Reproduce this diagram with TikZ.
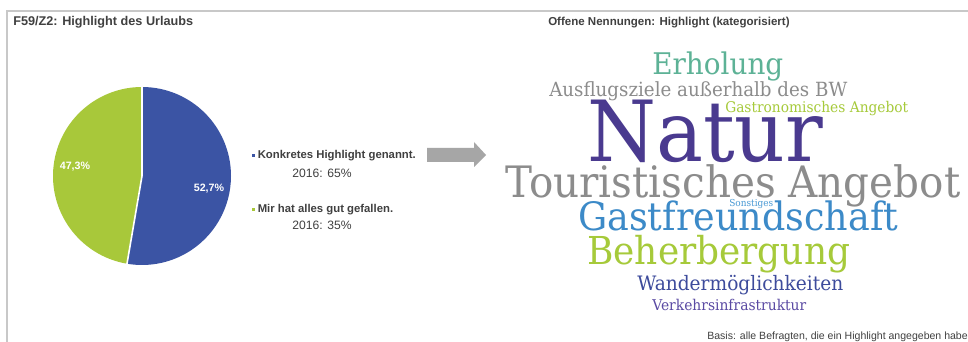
\documentclass[tikz,border=0pt]{standalone}
\usepackage{fontspec}
\usepackage{graphicx}
\setmainfont{Liberation Sans}
\newfontfamily\cloudfont{DejaVu Serif}
\newdimen\pxu \pxu=0.75pt
\newcommand{\wordc}[2]{\scalebox{1}[1.07]{\resizebox{#1\pxu}{!}{\cloudfont #2}}}
\definecolor{pieblue}{RGB}{59,84,164}
\definecolor{piegreen}{RGB}{168,200,58}
\definecolor{frame}{RGB}{200,200,200}
\definecolor{txt}{RGB}{64,64,64}
\definecolor{arrowgray}{RGB}{166,166,166}
\definecolor{cteal}{RGB}{93,178,150}
\definecolor{cgray}{RGB}{140,140,140}
\definecolor{cgreen}{RGB}{166,202,58}
\definecolor{cpurple}{RGB}{74,58,143}
\definecolor{clblue}{RGB}{74,154,213}
\definecolor{cblue}{RGB}{60,138,200}
\definecolor{cdblue}{RGB}{61,75,156}
\definecolor{cvpurple}{RGB}{90,74,163}
\tikzset{
  title/.style={font=\bfseries\fontsize{9.5}{11}\selectfont, text=txt, anchor=base west, inner sep=0},
  legtext/.style={font=\bfseries\fontsize{8.5}{10}\selectfont, text=txt, anchor=west, inner sep=0},
  legyear/.style={font=\fontsize{9.1}{11}\selectfont, text=txt, anchor=center, inner sep=0},
  pielabel/.style={font=\bfseries\fontsize{8}{9.6}\selectfont, text=white, inner sep=0},
  word/.style={anchor=base west, inner sep=0},
}
\begin{document}
\begin{tikzpicture}[x=0.75pt,y=-0.75pt]
\useasboundingbox (0,0) rectangle (968,342);
\fill[white] (0,0) rectangle (968,342);
\draw[frame, line width=1.3pt] (7,342) -- (7,11) -- (968,11);
% titles
\node[title] (t1) at (13,25.5) {F59/Z2: Highlight des Urlaubs};
\node[title, font=\bfseries\fontsize{8.65}{11}\selectfont] (t2) at (548,25.5) {Offene Nennungen: Highlight (kategorisiert)};
% pie
\coordinate (pc) at (142,176);
\begin{scope}[shift={(pc)}, x=0.75pt, y=0.75pt]
  \fill[pieblue] (0,0) -- (90:89) arc[start angle=90, end angle=-99.7, radius=89] -- cycle;
  \fill[piegreen] (0,0) -- (-99.7:89) arc[start angle=-99.7, end angle=-270, radius=89] -- cycle;
  \draw[white, line width=1.2pt] (90:89.5) -- (0,0) -- (-99.7:89.5);
\end{scope}
\node[pielabel] (l1) at (209,189) {52,7\%};
\node[pielabel] (l2) at (75,167) {47,3\%};
% legend
\node[fill=pieblue, minimum size=2.4pt, inner sep=0] (b1) at (253.5,155.5) {};
\node[legtext] (k1) at (257.5,155.5) {Konkretes Highlight genannt.};
\node[legyear] (y1) at (322,173) {2016: 65\%};
\node[fill=piegreen, minimum size=2.4pt, inner sep=0] (b2) at (253.5,209.5) {};
\node[legtext] (k2) at (257.5,209.5) {Mir hat alles gut gefallen.};
\node[legyear] (y2) at (322,225) {2016: 35\%};
% arrow
\fill[arrowgray] (427,148) -- (474,148) -- (474,142) -- (486,155) -- (474,167) -- (474,162) -- (427,162) -- cycle;
% word cloud
\node[word, text=cteal] (w1) at (652,75) {\wordc{131}{Erholung}};
\node[word, text=cgray] (w2) at (549,97) {\wordc{298}{Ausflugsziele außerhalb des BW}};
\node[word, text=cgreen] (w3) at (725,113) {\wordc{183}{Gastronomisches Angebot}};
\node[word, text=cpurple] (w4) at (587,162) {\wordc{236}{Natur}};
\node[word, text=cgray] (w5) at (505,198) {\wordc{455}{Touristisches Angebot}};
\node[word, text=clblue] (w6) at (729,207) {\wordc{44}{Sonstiges}};
\node[word, text=cblue] (w7) at (578,230) {\wordc{320}{Gastfreundschaft}};
\node[word, text=cgreen] (w8) at (587,265) {\wordc{263}{Beherbergung}};
\node[word, text=cdblue] (w9) at (637,290) {\wordc{206}{Wandermöglichkeiten}};
\node[word, text=cvpurple] (w10) at (652,310) {\wordc{154}{Verkehrsinfrastruktur}};
% basis
\node[anchor=base east, inner sep=0, text=txt, font=\fontsize{7.9}{9.5}\selectfont] (basis) at (968,339) {Basis: alle Befragten, die ein Highlight angegeben habe};
\end{tikzpicture}
\end{document}
